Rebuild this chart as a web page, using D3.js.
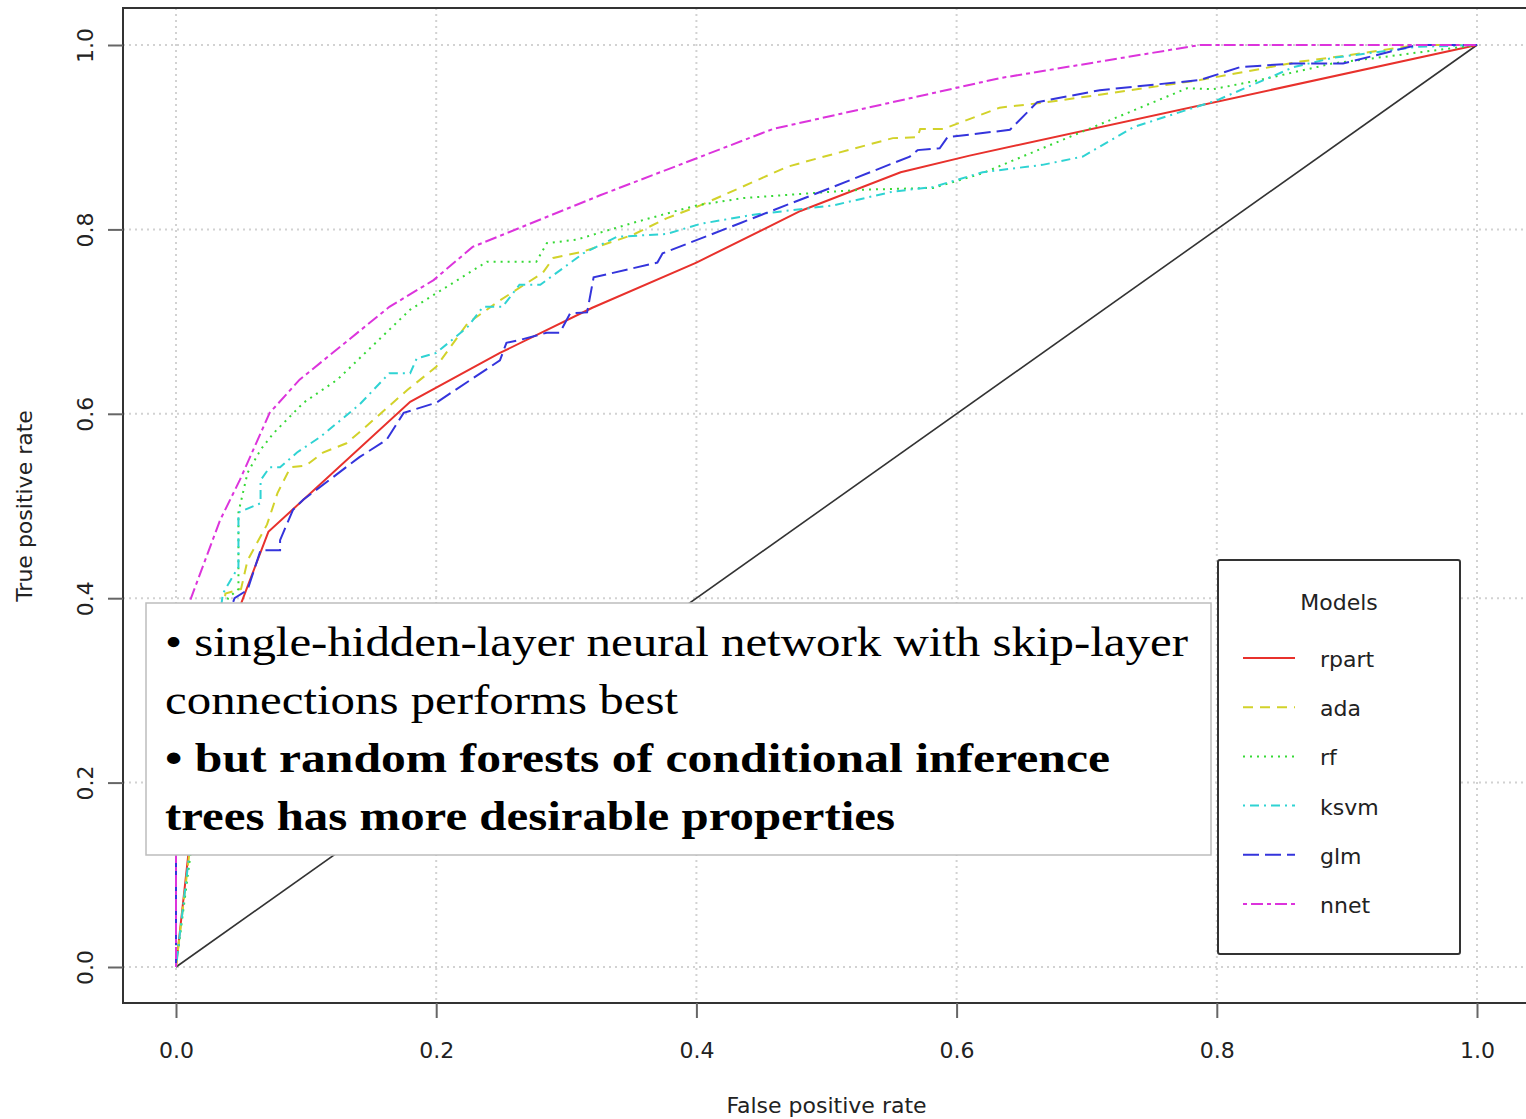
<!DOCTYPE html>
<html>
<head>
<meta charset="utf-8">
<script src="https://cdn.jsdelivr.net/npm/d3@7"></script>
<style>
	body { margin: 0; background: #fff; }
	text { font-family: "DejaVu Sans", sans-serif; fill: #222; }
	text.note { font-family: "Liberation Serif", "DejaVu Serif", serif; fill: #000; }
</style>
</head>
<body>
<div id="visHolder"></div>
<script>
// ROC curves (false positive rate, true positive rate)
const rpartFpr = [0, 0.0225, 0.051, 0.071, 0.18, 0.249, 0.32, 0.4, 0.48, 0.557, 0.61, 1];
const rpartTpr = [0, 0.29, 0.398, 0.472, 0.613, 0.666, 0.715, 0.764, 0.82, 0.862, 0.88, 1];

const adaFpr = [0, 0.01, 0.038, 0.05, 0.055, 0.07, 0.078, 0.088, 0.1, 0.113, 0.131, 0.141, 0.178, 0.2, 0.224, 0.249, 0.282, 0.29, 0.313, 0.351, 0.377, 0.403, 0.47, 0.493, 0.551, 0.57, 0.572, 0.59, 0.633, 0.664, 0.71, 0.787, 0.864, 0.902, 0.954, 1];
const adaTpr = [0, 0.12, 0.405, 0.41, 0.441, 0.48, 0.514, 0.542, 0.544, 0.558, 0.568, 0.58, 0.626, 0.651, 0.698, 0.723, 0.753, 0.769, 0.776, 0.794, 0.812, 0.826, 0.868, 0.877, 0.899, 0.9, 0.909, 0.909, 0.932, 0.937, 0.946, 0.962, 0.982, 0.989, 1, 1];

const rfFpr = [0, 0.0146, 0.04, 0.048, 0.048, 0.055, 0.065, 0.075, 0.098, 0.124, 0.18, 0.239, 0.277, 0.285, 0.308, 0.351, 0.4, 0.436, 0.526, 0.582, 0.62, 0.7, 0.777, 0.797, 0.833, 0.889, 1];
const rfTpr = [0, 0.16, 0.4, 0.41, 0.493, 0.536, 0.561, 0.579, 0.612, 0.637, 0.713, 0.765, 0.765, 0.785, 0.789, 0.807, 0.826, 0.834, 0.843, 0.845, 0.861, 0.908, 0.953, 0.952, 0.962, 0.98, 1];

const ksvmFpr = [0, 0.01, 0.036, 0.048, 0.048, 0.065, 0.065, 0.072, 0.08, 0.093, 0.111, 0.141, 0.164, 0.18, 0.185, 0.2, 0.224, 0.236, 0.251, 0.264, 0.28, 0.313, 0.339, 0.377, 0.403, 0.444, 0.505, 0.551, 0.582, 0.62, 0.666, 0.697, 0.736, 0.8, 0.859, 0.889, 0.954, 1];
const ksvmTpr = [0, 0.12, 0.405, 0.434, 0.493, 0.503, 0.528, 0.542, 0.542, 0.558, 0.575, 0.61, 0.644, 0.644, 0.66, 0.666, 0.694, 0.716, 0.716, 0.74, 0.74, 0.774, 0.792, 0.795, 0.806, 0.816, 0.826, 0.841, 0.846, 0.862, 0.87, 0.879, 0.911, 0.94, 0.976, 0.986, 0.998, 1];

const glmFpr = [0, 0, 0.02, 0.045, 0.055, 0.065, 0.08, 0.08, 0.09, 0.098, 0.141, 0.162, 0.175, 0.2, 0.249, 0.254, 0.264, 0.285, 0.295, 0.303, 0.316, 0.321, 0.37, 0.374, 0.434, 0.505, 0.564, 0.57, 0.587, 0.593, 0.641, 0.662, 0.71, 0.787, 0.818, 0.859, 0.897, 0.954, 1];
const glmTpr = [0, 0.2, 0.3, 0.4, 0.409, 0.452, 0.452, 0.463, 0.496, 0.507, 0.553, 0.572, 0.601, 0.612, 0.658, 0.677, 0.68, 0.688, 0.688, 0.709, 0.71, 0.748, 0.764, 0.774, 0.807, 0.846, 0.879, 0.886, 0.888, 0.9, 0.908, 0.938, 0.951, 0.962, 0.976, 0.98, 0.98, 1, 1];

const nnetFpr = [0, 0, 0.011, 0.034, 0.049, 0.072, 0.095, 0.164, 0.198, 0.228, 0.326, 0.459, 0.633, 0.787, 1];
const nnetTpr = [0, 0.22, 0.398, 0.485, 0.528, 0.601, 0.637, 0.716, 0.745, 0.781, 0.837, 0.909, 0.964, 1, 1];

const models = ["rpart", "ada", "rf", "ksvm", "glm", "nnet"];
const modelColors = ["#e8312c", "#d2d22a", "#36d936", "#2fd3d3", "#3434dc", "#dc34dc"];
const modelDashes = ["none", "10,7", "2,5", "2,5,9,5", "16,6", "4,4,12,4"];
const tickValues = [0, 0.2, 0.4, 0.6, 0.8, 1];

const notes = [
	{ text: "\u2022 single-hidden-layer neural network with skip-layer", bold: false, width: 1023 },
	{ text: "connections performs best", bold: false, width: 513 },
	{ text: "\u2022 but random forests of  conditional inference", bold: true, width: 945 },
	{ text: "trees has more desirable properties", bold: true, width: 730 },
];

const curves = [
	[rpartFpr, rpartTpr],
	[adaFpr, adaTpr],
	[rfFpr, rfTpr],
	[ksvmFpr, ksvmTpr],
	[glmFpr, glmTpr],
	[nnetFpr, nnetTpr],
].map(([f, t], i) => ({
	name: models[i],
	points: f.map((v, j) => [v, t[j]]),
}));

const width = 1526;
const height = 1119;
const frame = { left: 123, top: 8, bottom: 1003 };

const x = d3.scaleLinear().domain([0, 1]).range([176, 1477]);
const y = d3.scaleLinear().domain([0, 1]).range([967, 45]);

const svg = d3
	.select("#visHolder")
	.append("svg")
	.attr("width", width)
	.attr("height", height);

// grid
const grid = svg.append("g").attr("stroke", "#d2d2d2").attr("stroke-width", 2).attr("stroke-dasharray", "2,4");
grid
	.selectAll(".vgrid")
	.data(tickValues)
	.join("line")
	.attr("x1", (d) => x(d))
	.attr("x2", (d) => x(d))
	.attr("y1", frame.top)
	.attr("y2", frame.bottom);
grid
	.selectAll(".hgrid")
	.data(tickValues)
	.join("line")
	.attr("x1", frame.left)
	.attr("x2", width)
	.attr("y1", (d) => y(d))
	.attr("y2", (d) => y(d));

// chance diagonal
svg
	.append("line")
	.attr("x1", x(0))
	.attr("y1", y(0))
	.attr("x2", x(1))
	.attr("y2", y(1))
	.attr("stroke", "#333")
	.attr("stroke-width", 1.6);

const line = d3
	.line()
	.x((d) => x(d[0]))
	.y((d) => y(d[1]));

svg
	.append("g")
	.selectAll("path")
	.data(curves)
	.join("path")
	.attr("fill", "none")
	.attr("stroke", (d, i) => modelColors[i])
	.attr("stroke-width", 2)
	.attr("stroke-dasharray", (d, i) => modelDashes[i])
	.attr("d", (d) => line(d.points));

// frame
svg
	.append("path")
	.attr("fill", "none")
	.attr("stroke", "#333")
	.attr("stroke-width", 2)
	.attr("d", `M${width + 5},${frame.top}H${frame.left}V${frame.bottom}H${width + 5}`);

// axes
const xAxis = svg
	.append("g")
	.attr("transform", `translate(0,${frame.bottom})`)
	.call(d3.axisBottom(x).tickValues(tickValues).tickSize(15).tickFormat(d3.format(".1f")));
xAxis.select(".domain").remove();
xAxis.selectAll(".tick line").attr("stroke", "#666").attr("stroke-width", 2);
xAxis
	.selectAll(".tick text")
	.attr("y", 55)
	.attr("dy", 0)
	.attr("font-size", 22)
	.attr("font-family", "DejaVu Sans")
	.attr("fill", "#222");

const yAxis = svg
	.append("g")
	.attr("transform", `translate(${frame.left},0)`)
	.call(d3.axisLeft(y).tickValues(tickValues).tickSize(15).tickFormat(d3.format(".1f")));
yAxis.select(".domain").remove();
yAxis.selectAll(".tick line").attr("stroke", "#666").attr("stroke-width", 2);
yAxis
	.selectAll(".tick text")
	.attr("x", 0)
	.attr("dy", 0)
	.attr("transform", "translate(-30,0) rotate(-90)")
	.attr("text-anchor", "middle")
	.attr("font-size", 22)
	.attr("font-family", "DejaVu Sans")
	.attr("fill", "#222");

svg
	.append("text")
	.attr("x", (x(0) + x(1)) / 2)
	.attr("y", 1113)
	.attr("text-anchor", "middle")
	.attr("font-size", 22)
	.text("False positive rate");

svg
	.append("text")
	.attr("transform", `translate(32,${(y(0) + y(1)) / 2}) rotate(-90)`)
	.attr("text-anchor", "middle")
	.attr("font-size", 22)
	.text("True positive rate");

// legend
const legend = svg.append("g").attr("transform", "translate(1218,560)");
legend
	.append("rect")
	.attr("width", 242)
	.attr("height", 394)
	.attr("rx", 2)
	.attr("fill", "#fff")
	.attr("stroke", "#333")
	.attr("stroke-width", 2);
legend
	.append("text")
	.attr("x", 121)
	.attr("y", 50)
	.attr("text-anchor", "middle")
	.attr("font-size", 22)
	.text("Models");
const legendItems = legend
	.selectAll(".item")
	.data(models)
	.join("g")
	.attr("transform", (d, i) => `translate(0,${98 + i * 49.2})`);
legendItems
	.append("line")
	.attr("x1", 25)
	.attr("x2", 77)
	.attr("stroke", (d, i) => modelColors[i])
	.attr("stroke-width", 2)
	.attr("stroke-dasharray", (d, i) => modelDashes[i]);
legendItems
	.append("text")
	.attr("x", 102)
	.attr("y", 9)
	.attr("font-size", 22)
	.text((d) => d);

// annotation box
const note = svg.append("g");
note
	.append("rect")
	.attr("x", 146)
	.attr("y", 603)
	.attr("width", 1065)
	.attr("height", 252)
	.attr("fill", "#fff")
	.attr("stroke", "#bdbdbd")
	.attr("stroke-width", 1.5);
note
	.selectAll("text")
	.data(notes)
	.join("text")
	.attr("class", "note")
	.attr("x", 165)
	.attr("y", (d, i) => 656 + i * 58)
	.attr("font-size", 42)
	.attr("font-weight", (d) => (d.bold ? "bold" : "normal"))
	.attr("textLength", (d) => d.width)
	.attr("lengthAdjust", "spacingAndGlyphs")
	.text((d) => d.text);
</script>
</body>
</html>
